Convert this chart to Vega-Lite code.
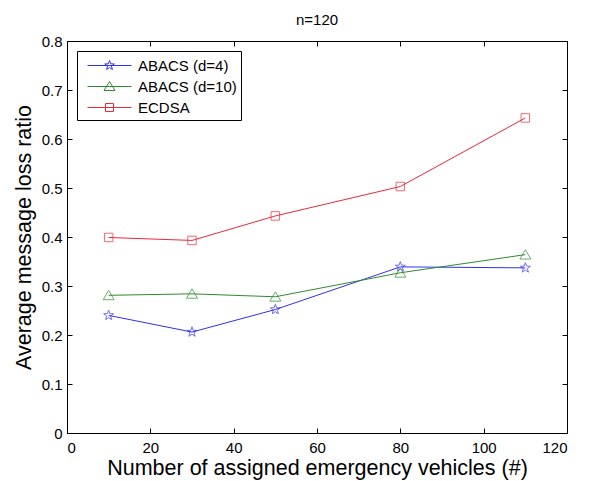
{
  "$schema": "https://vega.github.io/schema/vega-lite/v6.json",
  "width": 500,
  "height": 392,
  "autosize": "none",
  "padding": {"left": 67, "top": 41, "right": 22, "bottom": 48},
  "background": "white",
  "config": {
    "font": "Liberation Sans",
    "view": {"stroke": "black", "strokeWidth": 1},
    "axis": {"grid": false, "domainColor": "black", "tickColor": "black", "labelColor": "black", "titleColor": "black", "labelFont": "Liberation Sans", "titleFont": "Liberation Sans", "titleFontWeight": "normal"}
  },
  "title": {"text": "n=120", "fontSize": 15, "fontWeight": "normal", "font": "Liberation Sans", "offset": 6},
  "data": {"values": [
    {"n": 10, "v": 0.240, "s": "ABACS (d=4)"},
    {"n": 30, "v": 0.206, "s": "ABACS (d=4)"},
    {"n": 50, "v": 0.252, "s": "ABACS (d=4)"},
    {"n": 80, "v": 0.339, "s": "ABACS (d=4)"},
    {"n": 110, "v": 0.337, "s": "ABACS (d=4)"},
    {"n": 10, "v": 0.281, "s": "ABACS (d=10)"},
    {"n": 30, "v": 0.284, "s": "ABACS (d=10)"},
    {"n": 50, "v": 0.278, "s": "ABACS (d=10)"},
    {"n": 80, "v": 0.327, "s": "ABACS (d=10)"},
    {"n": 110, "v": 0.364, "s": "ABACS (d=10)"},
    {"n": 10, "v": 0.399, "s": "ECDSA"},
    {"n": 30, "v": 0.393, "s": "ECDSA"},
    {"n": 50, "v": 0.443, "s": "ECDSA"},
    {"n": 80, "v": 0.503, "s": "ECDSA"},
    {"n": 110, "v": 0.643, "s": "ECDSA"}
  ]},
  "layer": [
    {
      "mark": {"type": "line", "strokeWidth": 1},
      "encoding": {
        "x": {"field": "n", "type": "quantitative", "scale": {"domain": [0, 120], "nice": false},
              "axis": {"values": [0, 20, 40, 60, 80, 100, 120], "title": "Number of assigned emergency vehicles (#)", "titleFontSize": 21.5, "labelFontSize": 15, "tickSize": -5, "labelPadding": 12, "titlePadding": 2, "domainWidth": 1}},
        "y": {"field": "v", "type": "quantitative", "scale": {"domain": [0, 0.8], "nice": false},
              "axis": {"values": [0, 0.1, 0.2, 0.3, 0.4, 0.5, 0.6, 0.7, 0.8], "format": "~g", "title": "Average message loss ratio", "titleFontSize": 21.5, "labelFontSize": 15, "tickSize": -5, "labelPadding": 10, "titlePadding": 6}},
        "color": {"field": "s", "type": "nominal",
                  "scale": {"domain": ["ABACS (d=4)", "ABACS (d=10)", "ECDSA"], "range": ["#3030f0", "#2f8a2f", "#e82a3a"]},
                  "legend": {"title": null, "orient": "top-left", "offset": 10, "labelFontSize": 15, "labelColor": "black", "labelFont": "Liberation Sans",
                             "strokeColor": "black", "fillColor": "white", "padding": 4, "rowPadding": 2, "labelOffset": 36, "symbolSize": 400, "symbolStrokeWidth": 1,
                             "encode": {"symbols": {"update": {
                               "shape": {"signal": "datum.value === 'ABACS (d=4)' ? 'M-0.4,0H4M1.8,-0.5L1.92,-0.166L2.275,-0.155L1.995,0.064L2.093,0.405L1.8,0.205L1.507,0.405L1.605,0.064L1.325,-0.155L1.68,-0.166Z' : datum.value === 'ABACS (d=10)' ? 'M-0.4,0H4M1.8,-0.5L2.35,0.4L1.25,0.4Z' : 'M-0.4,0H4M1.4,-0.4H2.2V0.4H1.4Z'"},
                               "fill": {"value": "transparent"},
                               "size": {"value": 400}
                             }}}}}
      }
    },
    {
      "transform": [{"filter": "datum.s === 'ABACS (d=4)'"}],
      "mark": {"type": "point", "filled": false, "strokeWidth": 1, "size": 110,
               "shape": "M0,-1L0.24,-0.33L0.95,-0.31L0.39,0.13L0.59,0.81L0,0.41L-0.59,0.81L-0.39,0.13L-0.95,-0.31L-0.24,-0.33Z"},
      "encoding": {
        "x": {"field": "n", "type": "quantitative", "axis": {"orient": "top", "values": [0, 20, 40, 60, 80, 100, 120], "labels": false, "title": null, "tickSize": -5, "domain": false}},
        "y": {"field": "v", "type": "quantitative", "axis": {"orient": "right", "values": [0, 0.1, 0.2, 0.3, 0.4, 0.5, 0.6, 0.7, 0.8], "labels": false, "title": null, "tickSize": -5, "domain": false}},
        "color": {"field": "s", "type": "nominal", "legend": null}
      }
    },
    {
      "transform": [{"filter": "datum.s === 'ABACS (d=10)'"}],
      "mark": {"type": "point", "filled": false, "strokeWidth": 1, "size": 121, "shape": "M0,-0.9L1,0.8L-1,0.8Z"},
      "encoding": {
        "x": {"field": "n", "type": "quantitative", "axis": null},
        "y": {"field": "v", "type": "quantitative", "axis": null},
        "color": {"field": "s", "type": "nominal", "legend": null}
      }
    },
    {
      "transform": [{"filter": "datum.s === 'ECDSA'"}],
      "mark": {"type": "point", "filled": false, "strokeWidth": 1, "size": 72, "shape": "M-1,-1H1V1H-1Z"},
      "encoding": {
        "x": {"field": "n", "type": "quantitative", "axis": null},
        "y": {"field": "v", "type": "quantitative", "axis": null},
        "color": {"field": "s", "type": "nominal", "legend": null}
      }
    }
  ],
  "resolve": {"axis": {"x": "independent", "y": "independent"}}
}
